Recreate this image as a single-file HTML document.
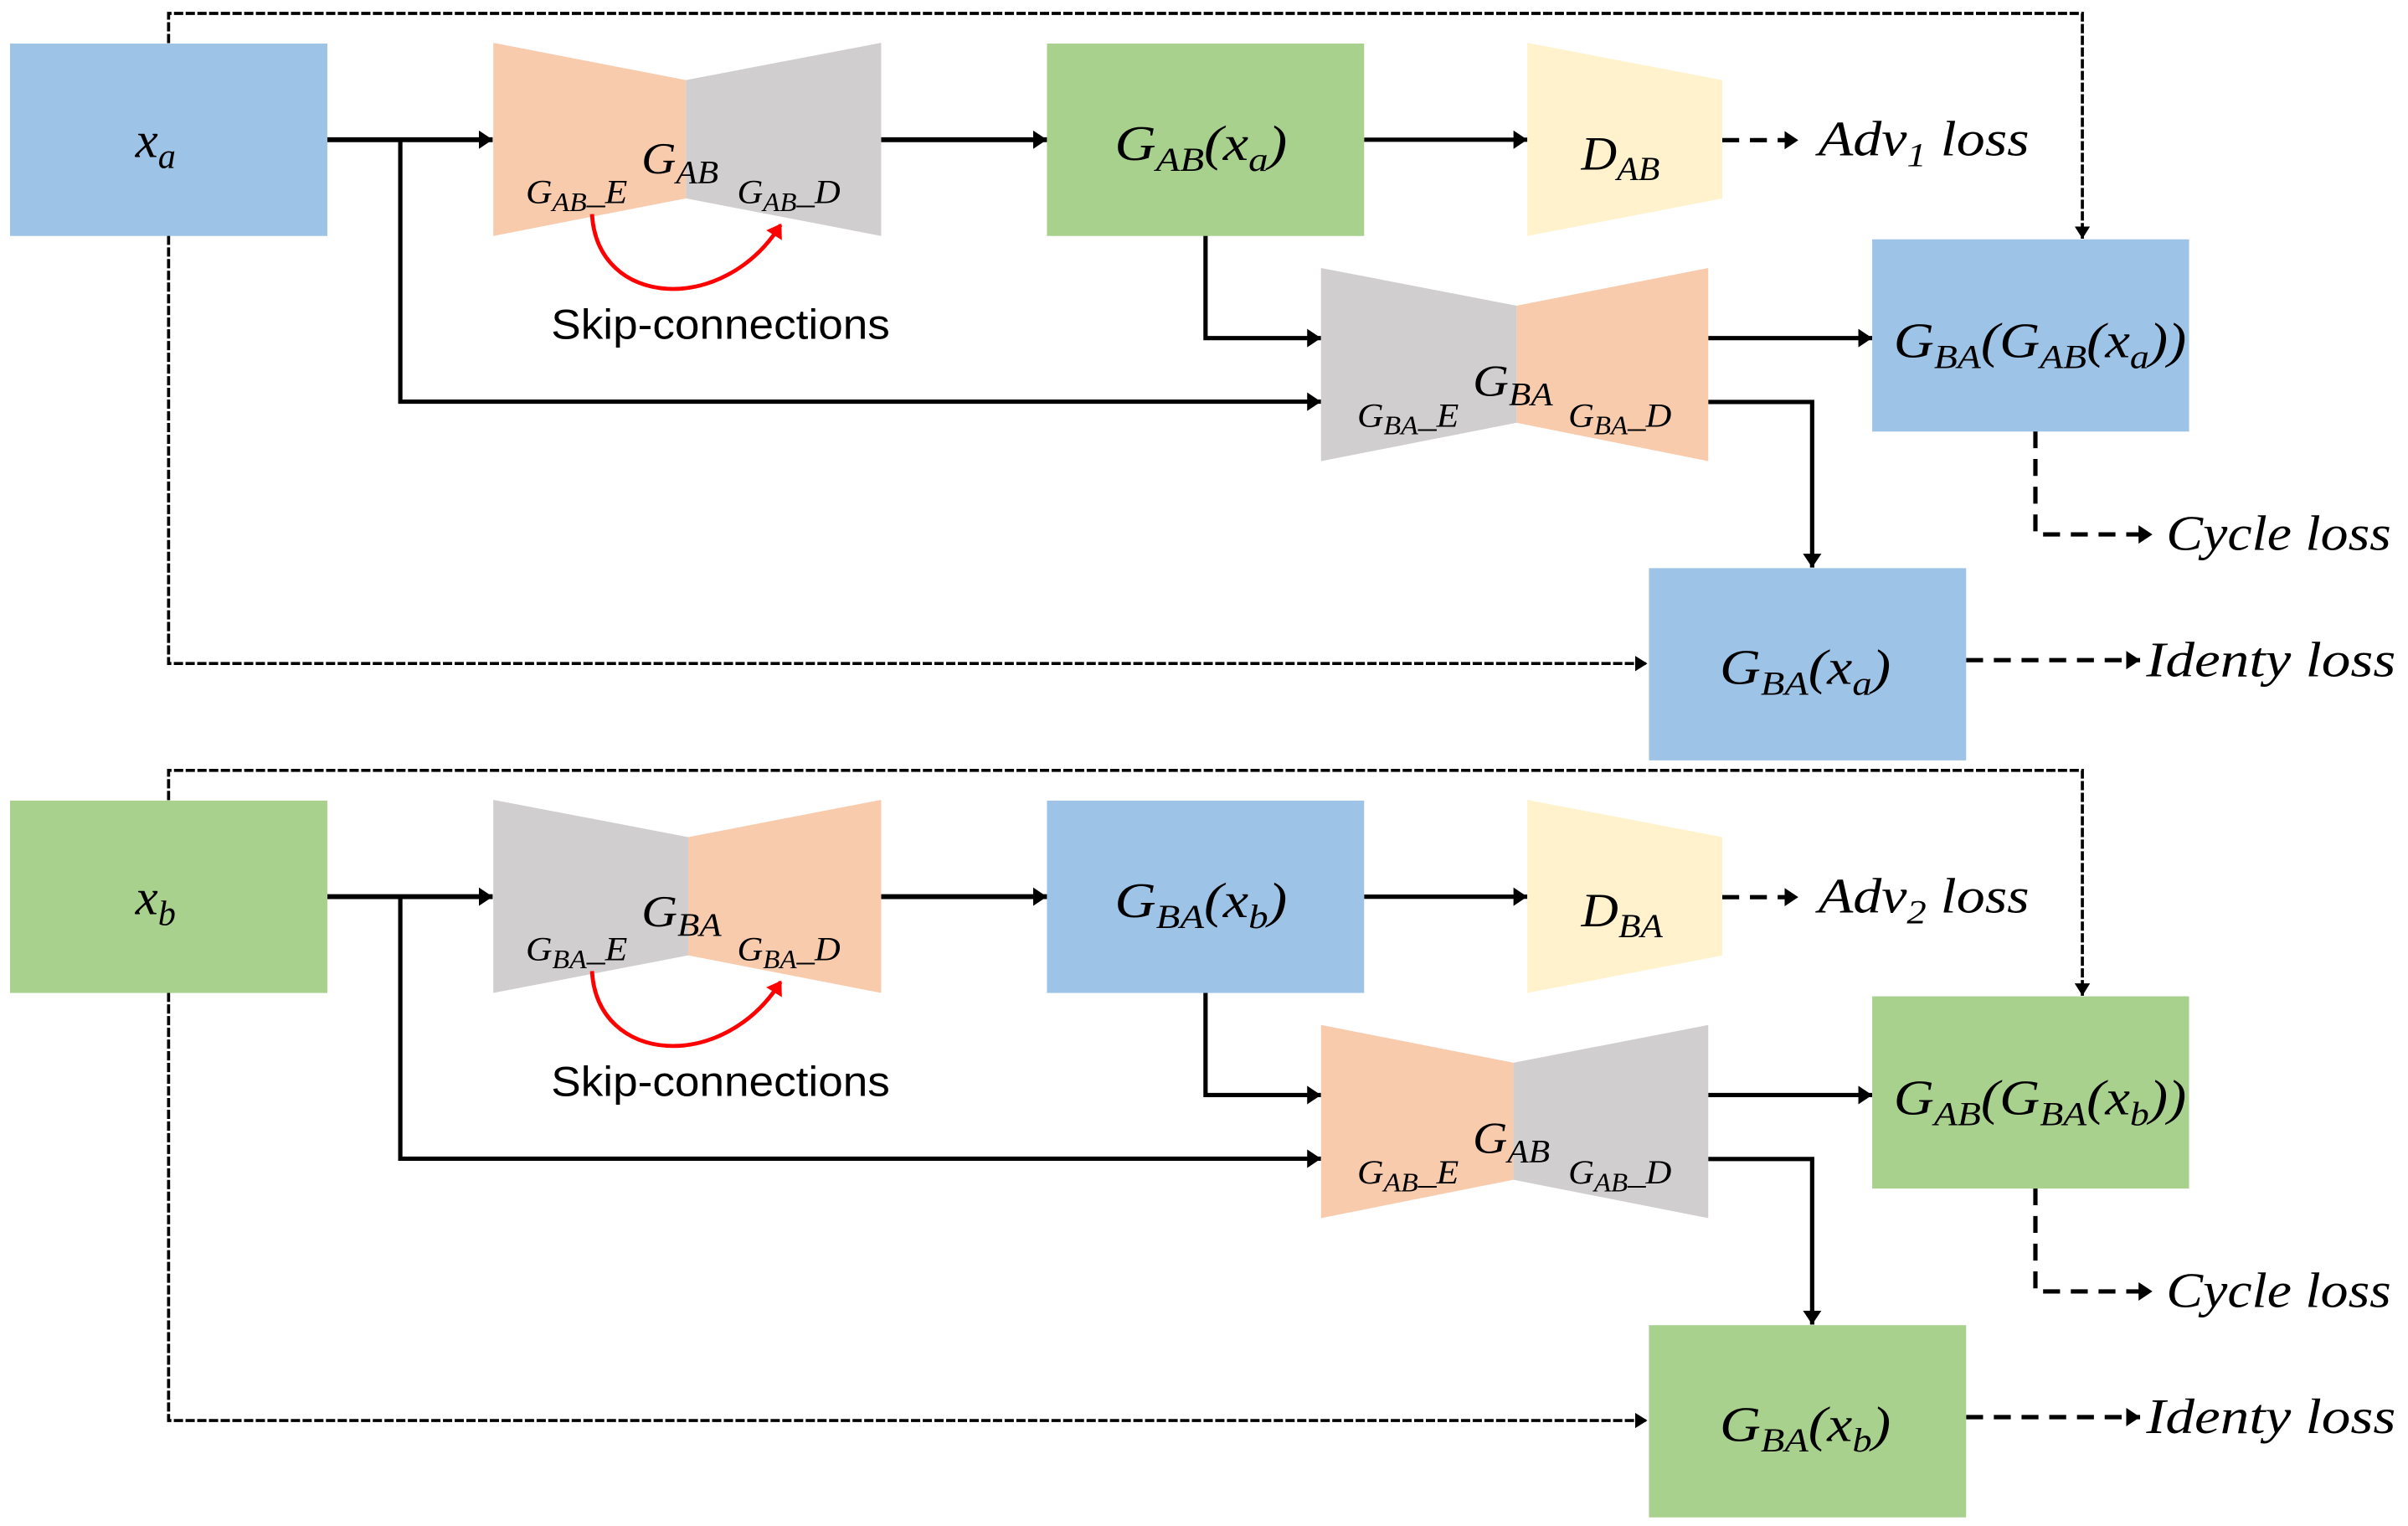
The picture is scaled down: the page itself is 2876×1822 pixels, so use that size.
<!DOCTYPE html>
<html><head><meta charset="utf-8"><style>
html,body{margin:0;padding:0;background:#fff;}
svg{display:block;}
.m{font-family:"Liberation Serif",serif;font-style:italic;fill:#000;}
.sk{font-family:"Liberation Sans",sans-serif;fill:#000;}
</style></head><body>
<svg width="2876" height="1822" viewBox="0 0 1564 990.8" preserveAspectRatio="none" xmlns="http://www.w3.org/2000/svg">
<defs>
<marker id="ah" markerUnits="userSpaceOnUse" markerWidth="10" markerHeight="12" refX="9" refY="6" orient="auto"><path d="M0,0 L9,6 L0,12 z" fill="#000"/></marker>
<marker id="ahs" markerUnits="userSpaceOnUse" markerWidth="9" markerHeight="10" refX="8" refY="5" orient="auto"><path d="M0,0 L8,5 L0,10 z" fill="#000"/></marker>
<marker id="ahr" markerUnits="userSpaceOnUse" markerWidth="10" markerHeight="12" refX="8" refY="6" orient="auto"><path d="M0,0 L9,6 L0,12 z" fill="#f00"/></marker>
<g id="half">
  <path d="M109.5,28 V8.7 H1352.5 V155" fill="none" stroke="#000" stroke-width="2" stroke-dasharray="6,1.6" marker-end="url(#ahs)"/>
  <path d="M109.5,153 V430.8 H1070" fill="none" stroke="#000" stroke-width="2" stroke-dasharray="6,1.6" marker-end="url(#ahs)"/>
  <path d="M212.6,90.7 H320" fill="none" stroke="#000" stroke-width="3.2" marker-end="url(#ah)"/>
  <path d="M260,90.7 V260.8 H858" fill="none" stroke="#000" stroke-width="2.8" marker-end="url(#ah)"/>
  <path d="M572.3,90.7 H680" fill="none" stroke="#000" stroke-width="3.2" marker-end="url(#ah)"/>
  <path d="M886,90.7 H992" fill="none" stroke="#000" stroke-width="2.8" marker-end="url(#ah)"/>
  <path d="M783,153 V219.5 H858" fill="none" stroke="#000" stroke-width="2.8" marker-end="url(#ah)"/>
  <path d="M1109.5,219.5 H1216" fill="none" stroke="#000" stroke-width="2.8" marker-end="url(#ah)"/>
  <path d="M1109.5,261 H1177 V368.5" fill="none" stroke="#000" stroke-width="2.8" marker-end="url(#ah)"/>
  <path d="M1118.6,91 H1168" fill="none" stroke="#000" stroke-width="2.8" stroke-dasharray="11,7" marker-end="url(#ah)"/>
  <path d="M1322,280 V347 H1398" fill="none" stroke="#000" stroke-width="2.8" stroke-dasharray="11,7" marker-end="url(#ah)"/>
  <path d="M1277,428.6 H1390" fill="none" stroke="#000" stroke-width="2.8" stroke-dasharray="11,7" marker-end="url(#ah)"/>
</g>
</defs>

<use href="#half"/>
<rect x="6.5" y="28.3" width="206.1" height="124.9" fill="#9DC3E6"/>
<polygon points="320.4,27.8 445.5,52 445.5,128.8 320.4,153.2" fill="#F8CBAD"/>
<polygon points="445.5,52 572.3,27.8 572.3,153.2 445.5,128.8" fill="#D0CECE"/>
<rect x="680" y="28.3" width="206" height="124.9" fill="#A9D18E"/>
<polygon points="992,27.8 1118.6,52 1118.6,128.9 992,153.2" fill="#FFF2CC"/>
<polygon points="858,174 985,198.5 985,274.5 858,299.4" fill="#D0CECE"/>
<polygon points="985,198.5 1109.5,174 1109.5,299.4 985,274.5" fill="#F8CBAD"/>
<rect x="1216" y="155.4" width="205.8" height="124.8" fill="#9DC3E6"/>
<rect x="1071" y="368.9" width="206" height="124.8" fill="#9DC3E6"/>
<path d="M384.5,139 C388,200 470,205 507,146" fill="none" stroke="#f00" stroke-width="2.6" marker-end="url(#ahr)"/>

<text class="m" x="88" y="102" font-size="33">x<tspan font-size="23" dy="7">a</tspan></text>
<text class="m" x="416.6" y="112.7" font-size="29" textLength="50" lengthAdjust="spacingAndGlyphs">G<tspan font-size="21" dy="6">AB</tspan></text>
<text class="m" x="341.5" y="132" font-size="22" textLength="66" lengthAdjust="spacingAndGlyphs">G<tspan font-size="17" dy="5">AB</tspan><tspan dy="-5">_E</tspan></text>
<text class="m" x="478.8" y="132" font-size="22" textLength="67" lengthAdjust="spacingAndGlyphs">G<tspan font-size="17" dy="5">AB</tspan><tspan dy="-5">_D</tspan></text>
<text class="sk" x="358" y="220" font-size="27" textLength="220" lengthAdjust="spacingAndGlyphs">Skip-connections</text>
<text class="m" x="724" y="104" font-size="32" textLength="112" lengthAdjust="spacingAndGlyphs">G<tspan font-size="22" dy="7">AB</tspan><tspan dy="-7">(x</tspan><tspan font-size="22" dy="7">a</tspan><tspan dy="-7">)</tspan></text>
<text class="m" x="1027" y="110" font-size="31" textLength="51" lengthAdjust="spacingAndGlyphs">D<tspan font-size="22" dy="7">AB</tspan></text>
<text class="m" x="1181" y="101" font-size="32" textLength="137" lengthAdjust="spacingAndGlyphs">Adv<tspan font-size="22" dy="7">1</tspan><tspan dy="-7"> loss</tspan></text>
<text class="m" x="956.6" y="257" font-size="29" textLength="52" lengthAdjust="spacingAndGlyphs">G<tspan font-size="21" dy="6">BA</tspan></text>
<text class="m" x="881.5" y="277" font-size="22" textLength="66" lengthAdjust="spacingAndGlyphs">G<tspan font-size="17" dy="5">BA</tspan><tspan dy="-5">_E</tspan></text>
<text class="m" x="1018.6" y="277" font-size="22" textLength="67" lengthAdjust="spacingAndGlyphs">G<tspan font-size="17" dy="5">BA</tspan><tspan dy="-5">_D</tspan></text>
<text class="m" x="1230" y="232" font-size="32" textLength="190" lengthAdjust="spacingAndGlyphs">G<tspan font-size="22" dy="7">BA</tspan><tspan dy="-7">(G</tspan><tspan font-size="22" dy="7">AB</tspan><tspan dy="-7">(x</tspan><tspan font-size="22" dy="7">a</tspan><tspan dy="-7">))</tspan></text>
<text class="m" x="1407" y="357" font-size="32" textLength="146" lengthAdjust="spacingAndGlyphs">Cycle loss</text>
<text class="m" x="1117" y="444" font-size="32" textLength="111" lengthAdjust="spacingAndGlyphs">G<tspan font-size="22" dy="7">BA</tspan><tspan dy="-7">(x</tspan><tspan font-size="22" dy="7">a</tspan><tspan dy="-7">)</tspan></text>
<text class="m" x="1394" y="439" font-size="32" textLength="162" lengthAdjust="spacingAndGlyphs">Identy loss</text>

<g transform="translate(0,491.5)">
<use href="#half"/>
<rect x="6.5" y="28.3" width="206.1" height="124.9" fill="#A9D18E"/>
<polygon points="320.4,27.8 447,52 447,128.8 320.4,153.2" fill="#D0CECE"/>
<polygon points="447,52 572.3,27.8 572.3,153.2 447,128.8" fill="#F8CBAD"/>
<rect x="680" y="28.3" width="206" height="124.9" fill="#9DC3E6"/>
<polygon points="992,27.8 1118.6,52 1118.6,128.9 992,153.2" fill="#FFF2CC"/>
<polygon points="858,174 983,198.5 983,274.5 858,299.4" fill="#F8CBAD"/>
<polygon points="983,198.5 1109.5,174 1109.5,299.4 983,274.5" fill="#D0CECE"/>
<rect x="1216" y="155.4" width="205.8" height="124.8" fill="#A9D18E"/>
<rect x="1071" y="368.9" width="206" height="124.8" fill="#A9D18E"/>
<path d="M384.5,139 C388,200 470,205 507,146" fill="none" stroke="#f00" stroke-width="2.6" marker-end="url(#ahr)"/>

<text class="m" x="88" y="102" font-size="33">x<tspan font-size="23" dy="7">b</tspan></text>
<text class="m" x="416.6" y="110" font-size="29" textLength="52" lengthAdjust="spacingAndGlyphs">G<tspan font-size="21" dy="6">BA</tspan></text>
<text class="m" x="341.5" y="132" font-size="22" textLength="66" lengthAdjust="spacingAndGlyphs">G<tspan font-size="17" dy="5">BA</tspan><tspan dy="-5">_E</tspan></text>
<text class="m" x="478.8" y="132" font-size="22" textLength="67" lengthAdjust="spacingAndGlyphs">G<tspan font-size="17" dy="5">BA</tspan><tspan dy="-5">_D</tspan></text>
<text class="sk" x="358" y="220" font-size="27" textLength="220" lengthAdjust="spacingAndGlyphs">Skip-connections</text>
<text class="m" x="724" y="104" font-size="32" textLength="112" lengthAdjust="spacingAndGlyphs">G<tspan font-size="22" dy="7">BA</tspan><tspan dy="-7">(x</tspan><tspan font-size="22" dy="7">b</tspan><tspan dy="-7">)</tspan></text>
<text class="m" x="1027" y="110" font-size="31" textLength="53" lengthAdjust="spacingAndGlyphs">D<tspan font-size="22" dy="7">BA</tspan></text>
<text class="m" x="1181" y="101" font-size="32" textLength="137" lengthAdjust="spacingAndGlyphs">Adv<tspan font-size="22" dy="7">2</tspan><tspan dy="-7"> loss</tspan></text>
<text class="m" x="956.6" y="257" font-size="29" textLength="50" lengthAdjust="spacingAndGlyphs">G<tspan font-size="21" dy="6">AB</tspan></text>
<text class="m" x="881.5" y="277" font-size="22" textLength="66" lengthAdjust="spacingAndGlyphs">G<tspan font-size="17" dy="5">AB</tspan><tspan dy="-5">_E</tspan></text>
<text class="m" x="1018.6" y="277" font-size="22" textLength="67" lengthAdjust="spacingAndGlyphs">G<tspan font-size="17" dy="5">AB</tspan><tspan dy="-5">_D</tspan></text>
<text class="m" x="1230" y="232" font-size="32" textLength="190" lengthAdjust="spacingAndGlyphs">G<tspan font-size="22" dy="7">AB</tspan><tspan dy="-7">(G</tspan><tspan font-size="22" dy="7">BA</tspan><tspan dy="-7">(x</tspan><tspan font-size="22" dy="7">b</tspan><tspan dy="-7">))</tspan></text>
<text class="m" x="1407" y="357" font-size="32" textLength="146" lengthAdjust="spacingAndGlyphs">Cycle loss</text>
<text class="m" x="1117" y="444" font-size="32" textLength="111" lengthAdjust="spacingAndGlyphs">G<tspan font-size="22" dy="7">BA</tspan><tspan dy="-7">(x</tspan><tspan font-size="22" dy="7">b</tspan><tspan dy="-7">)</tspan></text>
<text class="m" x="1394" y="439" font-size="32" textLength="162" lengthAdjust="spacingAndGlyphs">Identy loss</text>
</g>
</svg>
</body></html>
